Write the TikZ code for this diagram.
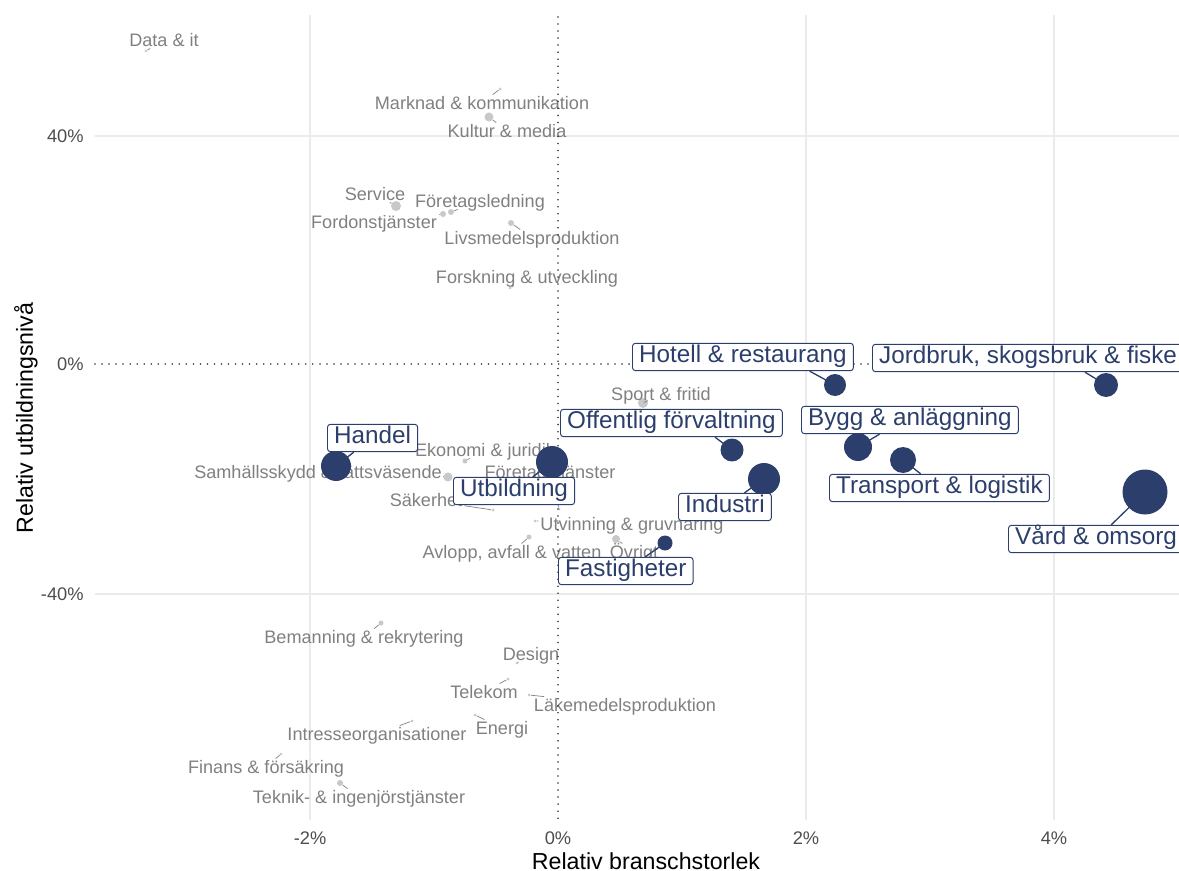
\documentclass[tikz,border=0pt]{standalone}
\usepackage{fontspec}
\setmainfont{Liberation Sans}
\usepackage{xcolor}
\usepackage{tikz}
\usetikzlibrary{positioning,calc}

\definecolor{navy}{RGB}{43,62,108}
\definecolor{gridgray}{RGB}{235,235,235}
\definecolor{lblgray}{RGB}{128,128,128}
\definecolor{ptgray}{RGB}{200,200,200}
\definecolor{tickgray}{RGB}{77,77,77}

\tikzset{
    gridline/.style={draw=gridgray, line width=0.6pt},
    zeroline/.style={draw=black!80, line width=1pt, line cap=round, dash pattern=on 0pt off 4pt},
    smalltext/.style={text=lblgray, font=\fontsize{10.3}{12}\selectfont, inner sep=1pt, text height=0.72em, text depth=0pt},
    smallpt/.style={circle, fill=ptgray, inner sep=0pt, minimum size=#1*0.02cm},
    smallseg/.style={draw=lblgray, line width=0.4pt},
    bigpt/.style={circle, fill=navy, inner sep=0pt, minimum size=#1*0.02cm},
    bigseg/.style={draw=navy, line width=0.75pt},
    biglabel/.style={draw=navy, line width=0.55pt, fill=white, rounded corners=1.7pt, text=navy,
        font=\fontsize{13.8}{16}\selectfont, inner xsep=3.8pt, inner ysep=3.6pt,
        text height=0.72em, text depth=0.12em, anchor=west},
    ticklabel/.style={text=tickgray, font=\fontsize{10.4}{12}\selectfont, inner sep=0pt},
    axistitle/.style={text=black, font=\fontsize{13.2}{15}\selectfont, inner sep=0pt}
}

\begin{document}
\begin{tikzpicture}[x=0.02cm, y=-0.02cm]
    \useasboundingbox (0,0) rectangle (1179,871);
    \clip (0,0) rectangle (1179,871);

    % Grid
    \foreach \gx in {310, 806, 1054}
        \draw[gridline] (\gx,15) -- (\gx,820);
    \foreach \gy in {136, 594}
        \draw[gridline] (95,\gy) -- (1179,\gy);

    % Small branches (grey)
    \foreach \id/\px/\py/\d/\lx/\ly/\txt in {
        data/146/51/3/164/40/Data \& it,
        mark/500/89/3/482/103/Marknad \& kommunikation,
        kult/489/117/9/507/131/Kultur \& media,
        serv/396/206/10/375/194/Service,
        fled/451/212/6/480/201/Företagsledning,
        ford/443/214/6/374/222/Fordonstjänster,
        livs/511/223/6/532/238/Livsmedelsproduktion,
        fors/510/288/3/527/277/Forskning \& utveckling,
        sport/643/403/10/661/394/Sport \& fritid,
        ekon/465/461/5/485/450/Ekonomi \& juridik,
        samh/448/477/9/318/472/Samhällsskydd \& rättsväsende,
        ftj/559/509/3/550/472/Företagstjänster,
        sak/493/510/3/426/500/Säkerhet,
        utv/535/521/3/632/524/Utvinning \& gruvnäring,
        avl/529/537/5/512/552/{Avlopp, avfall \& vatten},
        ovr/616/539/8/634/552/Övrigt,
        bem/381/623/5/364/637/Bemanning \& rekrytering,
        des/517/663/3/531/654/Design,
        tel/508/679/3/484/692/Telekom,
        lak/529/695/3/625/705/Läkemedelsproduktion,
        ene/475/715/3/502/728/Energi,
        intr/412/721/3/377/734/Intresseorganisationer,
        fin/281/754/3/266/767/Finans \& försäkring,
        tek/340/783/6/359/797/Teknik- \& ingenjörstjänster} {
        \node[smallpt=\d] (gp\id) at (\px,\py) {};
        \node[smalltext] (gl\id) at (\lx,\ly) {\txt};
        \draw[smallseg] (gp\id) -- (gl\id);
    }

    % Zero lines
    \draw[zeroline] (558,17) -- (558,820);
    \draw[zeroline] (95,364) -- (1179,364);

    % Large branches (blue)
    \foreach \id/\px/\py/\d/\lx/\ly/\ang/\txt in {
        handel/336/466/30/327/438/-143/Handel,
        utb/552/462/32/453/491/37/Utbildning,
        off/732/450/23/560/423/-18/Offentlig förvaltning,
        ind/764/479/32/678/507/36/Industri,
        fast/665/543/15/558/571/36/Fastigheter,
        hot/835/385/22/632/357/-12/Hotell \& restaurang,
        jord/1106/385/24/872/358/-14/{Jordbruk, skogsbruk \& fiske},
        bygg/858/447/28/801/420/-155/Bygg \& anläggning,
        trans/903/460/26/829/488/143/Transport \& logistik,
        vard/1145/492/45/1008/539/43/Vård \& omsorg} {
        \node[bigpt=\d] (bp\id) at (\px,\py) {};
        \node[biglabel] (bl\id) at (\lx,\ly) {\txt};
        \draw[bigseg] (bp\id.center) -- (bl\id.\ang);
    }

    % Axes
    \foreach \tx/\tl in {310/-2\%, 558/0\%, 806/2\%, 1054/4\%}
        \node[ticklabel] (xt\tx) at (\tx,838) {\tl};
    \foreach \ty/\tl in {136/40\%, 364/0\%, 594/-40\%}
        \node[ticklabel, anchor=east] (yt\ty) at (84,\ty) {\tl};
    \node[axistitle] (xtitle) at (646,861) {Relativ branschstorlek};
    \node[axistitle, rotate=90] (ytitle) at (26,418) {Relativ utbildningsnivå};
\end{tikzpicture}
\end{document}
